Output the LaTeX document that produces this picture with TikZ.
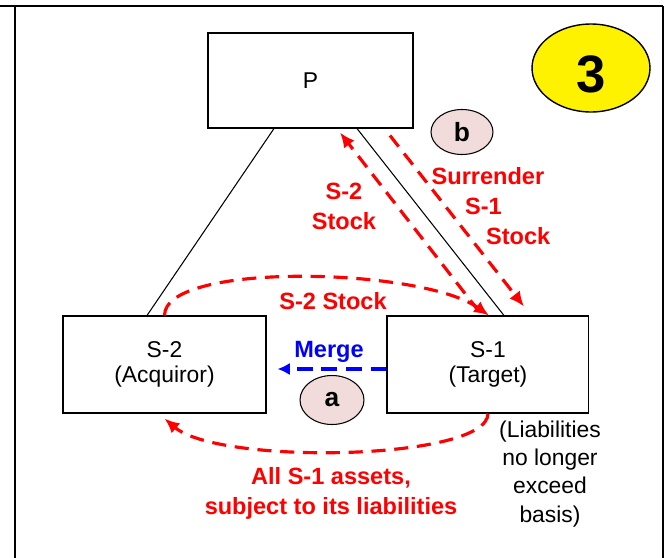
\documentclass[tikz,border=0pt]{standalone}
\usepackage{fontspec}
\setmainfont{Liberation Sans}
\usetikzlibrary{positioning,shapes.geometric,arrows.meta}
\definecolor{bubble}{RGB}{242,220,219}

\begin{document}
\begin{tikzpicture}[x=0.02cm,y=-0.02cm,>={Latex[length=8.5pt,width=7.5pt]},
	co/.style={draw,line width=0.6pt,minimum height=1.94cm,align=center,font=\fontsize{13}{14.5}\selectfont},
	flow/.style={red,line width=1.8pt,dash pattern=on 8pt off 5pt},
	lbl/.style={red,align=center,font=\fontsize{13.4}{17}\selectfont\bfseries},
	tag/.style={ellipse,draw,line width=0.6pt,fill=bubble,font=\fontsize{15}{17}\selectfont\bfseries}] 
	\useasboundingbox (0,0) rectangle (667,558);
	\draw[line width=1.4pt] (0,6) -- (663,6) (15,6) -- (15,558) (663,6) -- (663,558);
	\node[co,minimum width=4.1cm,minimum height=1.9cm] (P) at (310.5,80.5) {P}; 
	\node[co,minimum width=4.06cm] (s2) at (164.5,364.5) {S-2\\(Acquiror)}; 
	\node[co,minimum width=4.04cm] (s1) [right=2.4cm of s2] {S-1\\(Target)};
	\node[ellipse,draw,line width=0.8pt,fill=yellow,minimum width=2.36cm,minimum height=1.76cm,text height=27.5pt,text depth=0pt,font=\fontsize{30}{30}\selectfont\bfseries] (three) at (591,68) {3};
	\node[tag,minimum width=1.24cm,minimum height=0.9cm] (b) at (462,132) {b};
	\node[tag,minimum width=1.28cm,minimum height=0.98cm] (a) at (332,400) {a};
	% ownership
	\draw[line width=0.6pt] ([xshift=-0.73cm]P.south) -- ([xshift=-0.35cm]s2.north)
	([xshift=0.93cm]P.south) -- ([xshift=0.32cm]s1.north);
	% transfers
	\draw[flow,->] ([xshift=-0.18cm,yshift=0.08cm]s1.north) -- ([xshift=0.59cm,yshift=-0.08cm]P.south);
	\draw[flow,->] ([xshift=1.59cm,yshift=-0.14cm]P.south) -- ([xshift=0.72cm,yshift=0.18cm]s1.north);
	\draw[flow,->] (s2.north) .. controls +(0,-54) and +(-68,-48) .. ([xshift=0.02cm]s1.north);
	\draw[flow,->] (s1.south) .. controls +(0,47) and +(55,47) .. ([yshift=-0.1cm]s2.south);
	\draw[blue,line width=1.8pt,dash pattern=on 9pt off 5pt,-{Latex[length=7pt,width=7pt]}] ([yshift=-0.09cm]s1.west) -- ([xshift=0.22cm,yshift=-0.09cm]s2.east);
	\node[lbl,text=blue] (merge) at (329,352) {Merge};
	\node[lbl] (stk) at (333,301) {S-2 Stock};
	\node[lbl] (up) at (344,206) {S-2\\Stock};
	\node[lbl,align=left] (surr) at (491,206) {Surrender\\\hspace*{19pt}S-1\\\hspace*{31pt}Stock};
	\node[lbl] (assets) at (331,493) {All S-1 assets,\\subject to its liabilities};
	\node[align=center,font=\fontsize{13}{16}\selectfont] (liab) at (550,474) {(Liabilities\\no longer\\exceed\\basis)};
\end{tikzpicture}
\end{document}
